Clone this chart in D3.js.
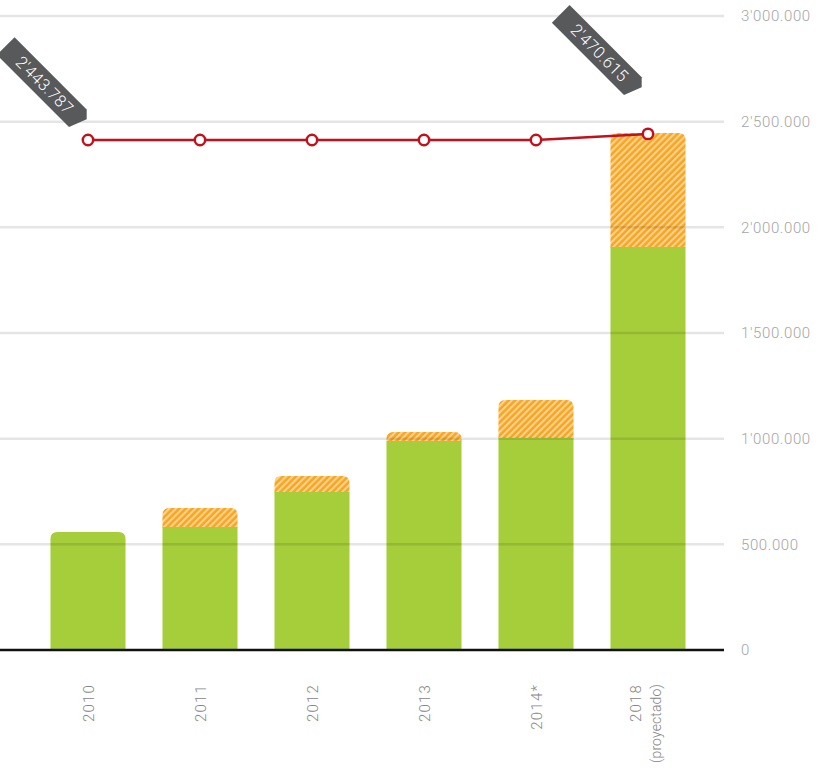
<!DOCTYPE html>
<html><head><meta charset="utf-8">
<script src="https://cdn.jsdelivr.net/npm/d3@7"></script>
<style>
html,body{margin:0;padding:0;background:#fff;}
svg{display:block;font-family:Roboto,"Open Sans",sans-serif;}
</style></head>
<body><svg id="chart" width="822" height="784"></svg>
<script>
// ---- data ----
const categories = ["2010","2011","2012","2013","2014*","2018"];
const categorySub = ["","","","","","(proyectado)"];
const baseValues = [558000, 582000, 748000, 989000, 1003000, 1907000];
const totalValues = [558000, 672000, 823000, 1032000, 1183000, 2446000];
const lineValues = [2413000, 2413000, 2413000, 2413000, 2413000, 2442000];
const yTicks = [0, 500000, 1000000, 1500000, 2000000, 2500000, 3000000];
const yTickLabels = ["0","500.000","1'000.000","1'500.000","2'000.000","2'500.000","3'000.000"];
const calloutIndex = [0, 5];
const calloutLabels = ["2'443.787", "2'470.615"];

const svg = d3.select("#chart");
const x = d3.scaleBand().domain(categories).range([32, 704]).paddingInner(0.33).paddingOuter(0.165);
const y = d3.scaleLinear().domain([0, 3000000]).range([650, 16]);

// hatch pattern
const defs = svg.append("defs");
const pat = defs.append("pattern").attr("id","hatch").attr("patternUnits","userSpaceOnUse")
  .attr("width",4.6).attr("height",4.6).attr("patternTransform","rotate(45)");
pat.append("rect").attr("width",4.6).attr("height",4.6).attr("fill","#f6a623");
pat.append("rect").attr("width",2.1).attr("height",4.6).attr("fill","#fdd28e");

function topRounded(x0, y0, w, h, r) {
  r = Math.min(r, h, w/2);
  return `M${x0},${y0+h}V${y0+r}Q${x0},${y0} ${x0+r},${y0}H${x0+w-r}Q${x0+w},${y0} ${x0+w},${y0+r}V${y0+h}Z`;
}

const bw = x.bandwidth();
const bars = svg.append("g");
categories.forEach((c, i) => {
  const x0 = x(c);
  const hasTop = totalValues[i] > baseValues[i];
  if (hasTop) {
    bars.append("path").attr("d", topRounded(x0, y(totalValues[i]), bw, y(baseValues[i]) - y(totalValues[i]) + 0.5, 7))
      .attr("fill","url(#hatch)");
    bars.append("rect").attr("x", x0).attr("y", y(baseValues[i])).attr("width", bw)
      .attr("height", y(0) - y(baseValues[i])).attr("fill","#a6cd3a");
  } else {
    bars.append("path").attr("d", topRounded(x0, y(baseValues[i]), bw, y(0) - y(baseValues[i]), 7))
      .attr("fill","#a6cd3a");
  }
});

// gridlines (drawn over bars, translucent)
const grid = svg.append("g");
yTicks.filter(t => t > 0).forEach(t => {
  grid.append("line").attr("x1",0).attr("x2",724).attr("y1",y(t)).attr("y2",y(t))
    .attr("stroke","rgba(0,0,0,0.1)").attr("stroke-width",2.5);
});
// baseline
svg.append("line").attr("x1",0).attr("x2",724).attr("y1",y(0)).attr("y2",y(0))
  .attr("stroke","#111").attr("stroke-width",2.5);

// y labels
const yl = svg.append("g");
yTicks.forEach((t, i) => {
  yl.append("text").attr("x",741).attr("y",y(t)).attr("dy","0.35em")
    .attr("font-size",15).attr("font-weight",300).attr("fill","#a5a5a5").attr("letter-spacing","0.6px")
    .text(yTickLabels[i]);
});

// x labels
const xl = svg.append("g");
categories.forEach((c, i) => {
  const cx = x(c) + bw/2;
  const sub = categorySub[i];
  const off = sub ? -7 : 6;
  const t = xl.append("text").attr("transform",`translate(${cx+off},684) rotate(-90)`)
    .attr("text-anchor","end").attr("font-size",15).attr("font-weight",300)
    .attr("fill","#858585");
  t.append("tspan").attr("x",0).attr("y",0).attr("letter-spacing","1.2px").text(c);
  if (sub) t.append("tspan").attr("x",0).attr("y",20).attr("font-size",14).attr("letter-spacing","0.1px").text(sub);
});

// line
const line = d3.line().x((d,i) => x(categories[i]) + bw/2).y(d => y(d));
svg.append("path").attr("d", line(lineValues)).attr("fill","none")
  .attr("stroke","#c0121c").attr("stroke-width",2.5);
svg.append("g").selectAll("circle").data(lineValues).join("circle")
  .attr("cx",(d,i) => x(categories[i]) + bw/2).attr("cy", d => y(d)).attr("r",5.2)
  .attr("fill","#fff").attr("stroke","#c0121c").attr("stroke-width",2.5);

// callout tags (rotated 45deg)
const tagOffsets = [[-19,-13],[-24,-39]];
const L = 102, h = 25;
calloutIndex.forEach((idx, k) => {
  const px = x(categories[idx]) + bw/2 + tagOffsets[k][0];
  const py = y(lineValues[idx]) + tagOffsets[k][1];
  const g = svg.append("g").attr("transform",`translate(${px},${py}) rotate(45) translate(${-L},${-h})`);
  g.append("path").attr("d",`M0,0H${L}L${L+7},7L${L},${h}H0Z`).attr("fill","#58595b");
  g.append("text").attr("x",L/2+4).attr("y",h/2).attr("dy","0.36em").attr("text-anchor","middle")
    .attr("font-size",16.5).attr("font-weight",300).attr("letter-spacing","0.3px")
    .attr("fill","#fff").text(calloutLabels[k]);
});
</script></body></html>
